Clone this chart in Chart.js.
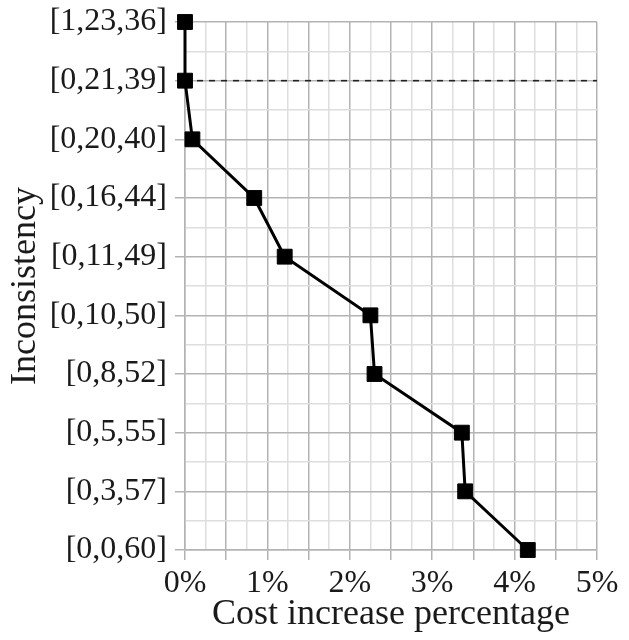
<!DOCTYPE html>
<html>
<head>
<meta charset="utf-8">
<script src="https://cdn.jsdelivr.net/npm/chart.js@4"></script>
<style>
html,body{margin:0;padding:0;background:#fff;}
#wrap{width:629px;height:640px;position:relative;}
#warm{position:absolute;left:-9999px;top:0;font-family:'Liberation Serif';font-size:32px;}
</style>
</head>
<body>
<div id="warm">[0,21,39] Cost increase percentage Inconsistency 0%</div>
<div id="wrap"><canvas id="c" width="629" height="640"></canvas></div>
<script>
// Categories (bottom to top)
const categories = ["[0,0,60]","[0,3,57]","[0,5,55]","[0,8,52]","[0,10,50]","[0,11,49]","[0,16,44]","[0,20,40]","[0,21,39]","[1,23,36]"];
// Cost increase percentage per category
const costValues = [4.16, 3.40, 3.36, 2.30, 2.25, 1.21, 0.84, 0.09, 0.0, 0.0];
// Dashed reference line at [0,21,39]
const refCategory = "[0,21,39]";
const xTickLabels = ["0%","1%","2%","3%","4%","5%"];

const FONT = "'Liberation Serif'";
const TICK_SIZE = 32;
const TITLE_SIZE = 36;
const MAJOR = '#b3b3b3';
const MINOR = '#dedede';
const TEXT = '#1a1a1a';

function draw(){
const points = costValues.map((v,i)=>({x:v, y:i}));
const refIdx = categories.indexOf(refCategory);

new Chart(document.getElementById('c'), {
  type: 'scatter',
  data: {
    datasets: [
      {
        data: [{x:0,y:refIdx},{x:5,y:refIdx}],
        showLine: true,
        borderColor: '#222',
        borderWidth: 1.6,
        borderDash: [6,6],
        pointRadius: 0,
        clip: false,
        order: 2
      },
      {
        data: points,
        showLine: true,
        borderColor: '#000',
        borderWidth: 3,
        pointStyle: 'rect',
        pointRadius: 10.5,
        pointBorderWidth: 1,
        pointBackgroundColor: '#000',
        pointBorderColor: '#000',
        clip: false,
        order: 1
      }
    ]
  },
  options: {
    responsive: false,
    animation: false,
    layout: { padding: { top: 22, right: 32, left: 0, bottom: 0 } },
    plugins: { legend: { display: false }, tooltip: { enabled: false } },
    scales: {
      x: {
        type: 'linear', min: 0, max: 5,
        afterBuildTicks: (s) => { s.ticks = []; for (let i=0;i<=20;i++) s.ticks.push({value: i*0.25}); },
        afterFit: (s) => { s.height = 90; s.paddingLeft = 0; s.paddingRight = 0; },
        border: { display: true, color: MAJOR, width: 1.5 },
        grid: {
          lineWidth: 1.5,
          color: (ctx) => (Math.abs(ctx.tick.value*2 - Math.round(ctx.tick.value*2)) < 1e-6) ? MAJOR : MINOR,
          tickColor: (ctx) => (Math.abs(ctx.tick.value*2 - Math.round(ctx.tick.value*2)) < 1e-6) ? MAJOR : 'rgba(0,0,0,0)',
          tickLength: 10
        },
        ticks: {
          autoSkip: false, maxRotation: 0, padding: 4,
          color: TEXT,
          font: { family: FONT, size: TICK_SIZE },
          callback: (v) => { const k = Math.round(v); return Math.abs(v-k) < 1e-6 ? xTickLabels[k] : ''; }
        },
        title: {
          display: true, text: 'Cost increase percentage',
          color: TEXT, font: { family: FONT, size: TITLE_SIZE },
          padding: { top: 0, bottom: 4 }
        }
      },
      y: {
        type: 'linear', min: 0, max: 9,
        afterBuildTicks: (s) => { s.ticks = []; for (let i=0;i<=18;i++) s.ticks.push({value: i*0.5}); },
        afterFit: (s) => { s.width = 185; s.paddingTop = 0; s.paddingBottom = 0; },
        border: { display: true, color: MAJOR, width: 1.5 },
        grid: {
          lineWidth: 1.5,
          color: (ctx) => Number.isInteger(ctx.tick.value) ? MAJOR : MINOR,
          tickColor: (ctx) => Number.isInteger(ctx.tick.value) ? MAJOR : 'rgba(0,0,0,0)',
          tickLength: 10
        },
        ticks: {
          autoSkip: false, padding: 8,
          color: TEXT,
          font: { family: FONT, size: TICK_SIZE },
          callback: (v) => Number.isInteger(v) ? categories[v] : ''
        },
        title: {
          display: true, text: 'Inconsistency',
          color: TEXT, font: { family: FONT, size: TITLE_SIZE },
          padding: { top: 4, bottom: 0 }
        }
      }
    }
  }
});
}
if (document.fonts && document.fonts.load) {
  document.fonts.load("32px 'Liberation Serif'").then(draw, draw);
} else { draw(); }
</script>
</body>
</html>
